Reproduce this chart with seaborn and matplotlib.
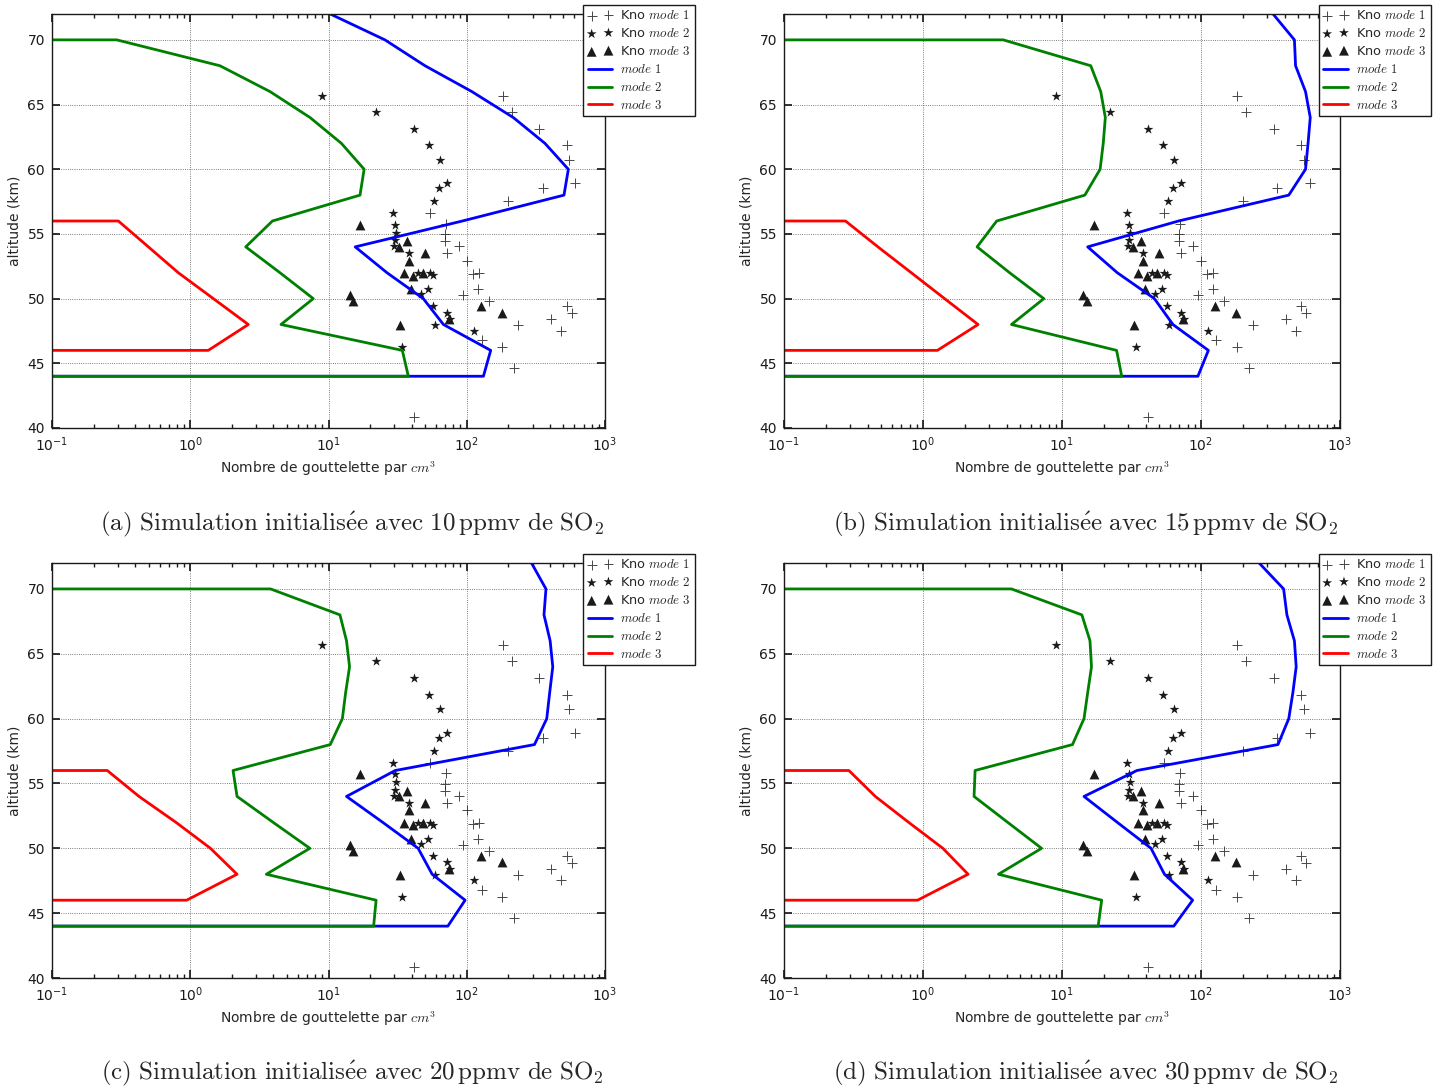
import numpy as np
import pandas as pd
import seaborn as sns
import matplotlib.pyplot as plt

# Observations Kno (identiques sur les 4 panneaux) : (nombre par cm3, altitude km)
kno1_x = [182, 212, 335, 528, 552, 610, 354, 200, 54.5, 70.4, 69.6, 69.6, 87.5, 72.3, 99.8,
          111, 123, 121, 94.4, 146, 528, 574, 409, 236, 481, 129, 181, 221, 41.5]
kno1_alt = [65.66, 64.44, 63.13, 61.85, 60.71, 58.91, 58.52, 57.52, 56.59, 55.77, 54.99, 54.45,
            54.07, 53.5, 52.93, 51.9, 51.95, 50.74, 50.28, 49.81, 49.43, 48.86, 48.42, 47.93,
            47.52, 46.82, 46.28, 44.66, 40.85]
kno2_x = [9.02, 22.2, 41.3, 53.6, 64.4, 72, 63.3, 58.2, 29.3, 30.4, 30.6, 30.4, 30.0, 38.2,
          44.2, 54.2, 56.7, 52.2, 46.5, 57.3, 72, 75.7, 59.3, 112, 34.2]
kno2_alt = [65.66, 64.44, 63.13, 61.85, 60.71, 58.91, 58.52, 57.52, 56.59, 55.71, 55.09, 54.5,
            54.07, 53.5, 51.96, 51.96, 51.82, 50.74, 50.33, 49.4, 48.91, 48.4, 47.93, 47.52, 46.28]
kno3_x = [17.0, 37.2, 32.2, 50.1, 38.0, 35.2, 40.6, 48.5, 39.4, 14.2, 15.1, 127, 179, 74.5, 33]
kno3_alt = [55.71, 54.45, 54.01, 53.5, 52.93, 51.96, 51.78, 51.96, 50.72, 50.28, 49.81, 49.4,
            48.91, 48.4, 47.93]

# Profils simulés
alt_mode1 = [72, 70, 68, 66, 64, 62, 60, 58, 56, 54, 52, 50, 48, 46, 44, 44]
alt_mode2 = [70, 70, 68, 66, 64, 62, 60, 58, 56, 54, 52, 50, 48, 46, 44, 44]
alt_mode3 = [56, 56, 54, 52, 50, 48, 46, 46]

mode1_10 = [10.3, 25.6, 49.9, 109, 217, 368, 543, 505, 93, 15.6, 26.5, 48.5, 67.8, 149, 132, 0.01]
mode2_10 = [0.01, 0.294, 1.64, 3.78, 7.35, 12.4, 18.1, 16.9, 3.93, 2.52, 4.46, 7.76, 4.53, 34.2, 37.8, 0.01]
mode3_10 = [0.01, 0.302, 0.498, 0.820, 1.47, 2.63, 1.35, 0.01]

mode1_15 = [330, 470, 479, 565, 611, 589, 565, 428, 68.9, 15.3, 25, 46.2, 62.8, 113, 95, 0.01]
mode2_15 = [0.01, 3.78, 16.1, 19.0, 20.5, 19.8, 18.8, 14.6, 3.39, 2.45, 4.2, 7.4, 4.33, 24.7, 26.9, 0.01]
mode3_15 = [0.01, 0.277, 0.474, 0.824, 1.43, 2.49, 1.27, 0.01]

mode1_20 = [294, 374, 362, 401, 419, 398, 379, 309, 30.4, 13.5, 24.7, 44.5, 56.2, 97.3, 73, 0.01]
mode2_20 = [0.01, 3.81, 12.1, 13.5, 14.2, 13.3, 12.6, 10.3, 2.04, 2.18, 3.98, 7.33, 3.55, 22.1, 21.2, 0.01]
mode3_20 = [0.01, 0.251, 0.426, 0.789, 1.40, 2.18, 0.942, 0.01]

mode1_30 = [262, 393, 415, 470, 484, 458, 428, 358, 34.6, 14.4, 25, 43.7, 54.6, 87.1, 63.7, 0.01]
mode2_30 = [0.01, 4.33, 13.9, 15.9, 16.3, 15.3, 14.4, 11.9, 2.37, 2.33, 4.07, 7.13, 3.49, 19.3, 18.2, 0.01]
mode3_30 = [0.01, 0.293, 0.454, 0.789, 1.39, 2.11, 0.914, 0.01]

panel_letters = ['a', 'b', 'c', 'd']
ppmv = [10, 15, 20, 30]
modes = [(mode1_10, mode2_10, mode3_10), (mode1_15, mode2_15, mode3_15),
         (mode1_20, mode2_20, mode3_20), (mode1_30, mode2_30, mode3_30)]

sns.set_theme(style='ticks')
plt.rcParams.update({
    'font.family': ['DejaVu Sans'],
    'font.size': 10,
    'mathtext.fontset': 'cm',
    'axes.edgecolor': 'k',
    'axes.linewidth': 1.0,
    'xtick.direction': 'in', 'ytick.direction': 'in',
    'xtick.top': True, 'ytick.right': True,
    'xtick.color': 'k', 'ytick.color': 'k',
    'xtick.labelsize': 10, 'ytick.labelsize': 10,
    'xtick.major.size': 6, 'ytick.major.size': 6,
    'xtick.minor.size': 3, 'ytick.minor.size': 3,
    'xtick.major.pad': 5, 'ytick.major.pad': 5,
})

fig = plt.figure(figsize=(14.37, 10.88), dpi=100)
positions = [(52, 14, 605, 428), (784, 14, 1340, 428), (52, 563, 605, 978), (784, 563, 1340, 978)]
W, H = 1437, 1088

for idx, (l, t, r, b) in enumerate(positions):
    ax = fig.add_axes([l / W, 1 - b / H, (r - l) / W, (b - t) / H])
    ax.set_xscale('log')

    sns.scatterplot(x=kno1_x, y=kno1_alt, marker='+', color='k', s=50, linewidth=0.7,
                    ax=ax, label=r'Kno $mode\ 1$', alpha=0.8)
    sns.scatterplot(x=kno2_x, y=kno2_alt, marker='*', color='k', s=55, linewidth=0,
                    ax=ax, label=r'Kno $mode\ 2$')
    sns.scatterplot(x=kno3_x, y=kno3_alt, marker='^', color='k', s=50, linewidth=0,
                    ax=ax, label=r'Kno $mode\ 3$')

    m1, m2, m3 = modes[idx]
    sns.lineplot(x=m1, y=alt_mode1, sort=False, estimator=None, color='#0000ff', lw=2,
                 ax=ax, label=r'$mode\ 1$')
    sns.lineplot(x=m2, y=alt_mode2, sort=False, estimator=None, color='#008000', lw=2,
                 ax=ax, label=r'$mode\ 2$')
    sns.lineplot(x=m3, y=alt_mode3, sort=False, estimator=None, color='#ff0000', lw=2,
                 ax=ax, label=r'$mode\ 3$')

    ax.set_xlim(0.1, 1000)
    ax.set_ylim(40, 72)
    ax.set_yticks([40, 45, 50, 55, 60, 65, 70])
    ax.grid(True, which='major', color='k', linestyle=':', linewidth=0.6, alpha=0.75)
    ax.set_xlabel(r'Nombre de gouttelette par $cm^3$', fontsize=10)
    ax.set_ylabel('altitude (km)', fontsize=10)

    leg = ax.legend(loc='upper right', bbox_to_anchor=(1.163, 1.022), borderaxespad=0,
                    fontsize=9.3, scatterpoints=2, handlelength=1.9, handletextpad=0.6,
                    labelspacing=0.38, fancybox=False, framealpha=1, edgecolor='k',
                    borderpad=0.35)
    leg.get_frame().set_linewidth(1.0)

    cx = 352 if idx % 2 == 0 else 1086
    cy = 524 if idx < 2 else 1073
    caption = (r'$\mathrm{(%s)\ Simulation\ initialis\acute{e}e\ avec\ %d\,ppmv\ de\ SO_2}$'
               % (panel_letters[idx], ppmv[idx]))
    fig.text(cx / W, 1 - cy / H, caption, ha='center', va='center', fontsize=18)

fig.savefig('out.png', dpi=100)
